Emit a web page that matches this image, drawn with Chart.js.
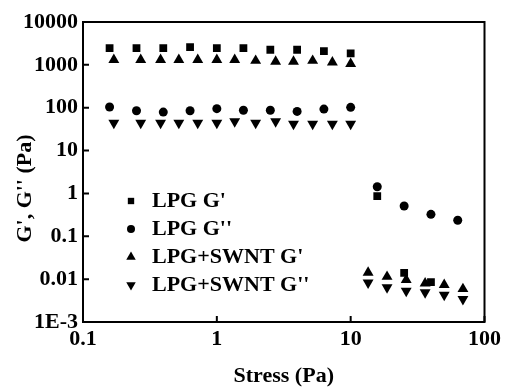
<!DOCTYPE html>
<html>
<head>
<meta charset="utf-8">
<script src="https://cdn.jsdelivr.net/npm/chart.js@4.4.1/dist/chart.umd.min.js"></script>
<style>
  html, body { margin: 0; padding: 0; background: #fff; }
</style>
</head>
<body>
<canvas id="rheoChart" width="505" height="390"></canvas>
<script>
// stress sweep (Pa) and moduli (Pa)
const stressLPG = [0.158, 0.251, 0.398, 0.631, 1, 1.58, 2.51, 3.98, 6.31, 10, 15.8, 25.1, 39.8, 63.1];
const lpgStorage = [2450, 2450, 2450, 2600, 2450, 2450, 2250, 2250, 2100, 1850, 0.87, 0.014, 0.0085];
const lpgLoss = [104, 85, 79, 85, 95, 87, 87, 82, 93, 102, 1.43, 0.51, 0.325, 0.236];

const stressSWNT = [0.17, 0.27, 0.38, 0.52, 0.72, 1.0, 1.36, 1.95, 2.75, 3.74, 5.2, 7.3, 10, 13.5, 18.7, 26, 36, 50, 69];
const swntStorage = [1310, 1310, 1310, 1310, 1310, 1310, 1310, 1250, 1190, 1190, 1250, 1140, 1060, 0.0143, 0.0114, 0.0096, 0.0080, 0.0074, 0.0059];
const swntLoss = [44, 44, 44, 44, 44, 44, 48, 44, 48, 42, 42, 42, 42, 0.0083, 0.0064, 0.0053, 0.0049, 0.0043, 0.0034];

const seriesNames = ["LPG G'", "LPG G''", "LPG+SWNT G'", "LPG+SWNT G''"];

const xTickValues = [0.1, 1, 10, 100];
const xTickLabels = ['0.1', '1', '10', '100'];
const yTickValues = [0.001, 0.01, 0.1, 1, 10, 100, 1000, 10000];
const yTickLabels = ['1E-3', '0.01', '0.1', '1', '10', '100', '1000', '10000'];

const serif = 'Liberation Serif, Times New Roman, serif';

function toPoints(xs, ys) {
    return ys.map((y, i) => ({ x: xs[i], y: y }));
}

// box round the plot and short inward ticks
const frameTicks = {
    id: 'frameTicks',
    afterDraw(chart) {
        const ctx = chart.ctx;
        const a = chart.chartArea;
        ctx.save();
        ctx.strokeStyle = '#000';
        ctx.lineWidth = 2;
        ctx.strokeRect(a.left, a.top, a.right - a.left, a.bottom - a.top);
        ctx.beginPath();
        yTickValues.forEach(v => {
            const py = chart.scales.y.getPixelForValue(v);
            ctx.moveTo(a.left, py);
            ctx.lineTo(a.left + 6, py);
        });
        xTickValues.forEach(v => {
            const px = chart.scales.x.getPixelForValue(v);
            ctx.moveTo(px, a.bottom);
            ctx.lineTo(px, a.bottom - 6);
        });
        ctx.stroke();
        ctx.restore();
    }
};

// legend sits inside the plot, lower left
const insideLegend = {
    id: 'insideLegend',
    afterDraw(chart) {
        const ctx = chart.ctx;
        const sizes = [4.5, 4, 5.5, 5.5];
        ctx.save();
        ctx.font = 'bold 22px ' + serif;
        ctx.textBaseline = 'middle';
        ctx.fillStyle = '#000';
        chart.data.datasets.forEach((ds, i) => {
            const y = 201 + i * 28;
            ctx.fillStyle = '#000';
            ctx.strokeStyle = '#000';
            Chart.helpers.drawPoint(ctx, {
                pointStyle: ds.pointStyle,
                rotation: ds.rotation || 0,
                radius: sizes[i],
                borderWidth: 0
            }, 131, y);
            ctx.fillText(ds.label, 152, y);
        });
        ctx.restore();
    }
};

const ctx = document.getElementById('rheoChart').getContext('2d');
new Chart(ctx, {
    type: 'scatter',
    data: {
        datasets: [
            { label: seriesNames[0], data: toPoints(stressLPG, lpgStorage), pointStyle: 'rect', pointRadius: 5.5 },
            { label: seriesNames[1], data: toPoints(stressLPG, lpgLoss), pointStyle: 'circle', pointRadius: 4.5 },
            { label: seriesNames[2], data: toPoints(stressSWNT, swntStorage), pointStyle: 'triangle', pointRadius: 6.3 },
            { label: seriesNames[3], data: toPoints(stressSWNT, swntLoss), pointStyle: 'triangle', rotation: 180, pointRadius: 6.3 }
        ].map(ds => Object.assign(ds, {
            backgroundColor: '#000',
            borderColor: '#000',
            borderWidth: 0,
            pointHoverRadius: ds.pointRadius,
            showLine: false
        }))
    },
    options: {
        responsive: false,
        animation: false,
        devicePixelRatio: 1,
        layout: { padding: { top: 22, right: 19, left: 0, bottom: 0 } },
        plugins: {
            legend: { display: false },
            tooltip: { enabled: false }
        },
        scales: {
            x: {
                type: 'logarithmic',
                min: 0.1,
                max: 100,
                afterBuildTicks: s => { s.ticks = xTickValues.map(v => ({ value: v })); },
                afterFit: s => { s.height = 68; },
                ticks: {
                    autoSkip: false,
                    maxRotation: 0,
                    padding: 4,
                    color: '#000',
                    font: { family: serif, size: 22, weight: 'bold' },
                    callback: (v, i) => xTickLabels[i]
                },
                grid: { display: false, drawTicks: false },
                border: { display: false },
                title: {
                    display: true,
                    text: 'Stress (Pa)',
                    color: '#000',
                    font: { family: serif, size: 22, weight: 'bold' },
                    padding: { top: 0, bottom: 0 }
                }
            },
            y: {
                type: 'logarithmic',
                min: 0.001,
                max: 10000,
                afterBuildTicks: s => { s.ticks = yTickValues.map(v => ({ value: v })); },
                afterFit: s => { s.width = 83; },
                ticks: {
                    autoSkip: false,
                    padding: 5,
                    color: '#000',
                    font: { family: serif, size: 22, weight: 'bold' },
                    callback: (v, i) => yTickLabels[i]
                },
                grid: { display: false, drawTicks: false },
                border: { display: false },
                title: {
                    display: true,
                    text: "G', G'' (Pa)      ",
                    color: '#000',
                    font: { family: serif, size: 22, weight: 'bold' },
                    padding: { top: 12, bottom: 0 }
                }
            }
        }
    },
    plugins: [frameTicks, insideLegend]
});
</script>
</body>
</html>
